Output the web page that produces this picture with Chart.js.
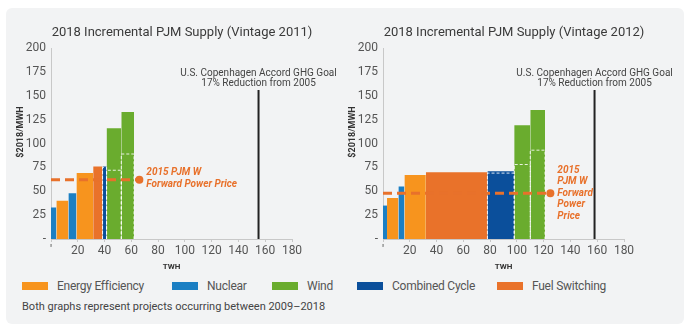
<!DOCTYPE html>
<html>
<head>
<meta charset="utf-8">
<script src="https://cdn.jsdelivr.net/npm/chart.js@4.4.0/dist/chart.umd.min.js"></script>
<style>
  body { margin: 0; background: #fff; width: 690px; height: 333px; overflow: hidden;
         font-family: Roboto, sans-serif; }
  #panel { position: absolute; left: 6px; top: 8px; width: 678px; height: 316px;
           background: #f2f3f4; border-radius: 6px; }
  .box { position: absolute; top: 0; width: 345px; height: 276px; }
  #legend { position: absolute; left: 0; top: 279px; width: 690px; height: 16px;
            font-size: 12px; letter-spacing: -0.25px; color: #555; }
  #legend .item { position: absolute; top: 0; display: flex; align-items: center; white-space: nowrap; }
  #legend .item:nth-child(1) { left: 22px; }
  #legend .item:nth-child(2) { left: 172px; }
  #legend .item:nth-child(3) { left: 272px; }
  #legend .item:nth-child(4) { left: 357px; }
  #legend .item:nth-child(5) { left: 497px; }
  #legend .sw { width: 26px; height: 8px; margin-right: 9px; }
  #note { position: absolute; left: 22px; top: 300px; font-size: 11px; color: #444; }
</style>
</head>
<body>
<div id="panel"></div>
<div class="box" style="left:0"><canvas id="chart2011"></canvas></div>
<div class="box" style="left:332px"><canvas id="chart2012"></canvas></div>
<div id="legend"></div>
<div id="note">Both graphs represent projects occurring between 2009–2018</div>

<script>
// legend categories
const categories = ['Energy Efficiency', 'Nuclear', 'Wind', 'Combined Cycle', 'Fuel Switching'];
const catColors = ['#f7941e', '#1b7fc3', '#6aac2e', '#0b4f9b', '#e9722a'];

// tick labels
const xTickLabels = ["'", '20', '40', '60', '80', '100', '120', '140', '160', '180'];
const yTickLabels = ['-', '25', '50', '75', '100', '125', '150', '175', '200'];

// Vintage 2011 supply curve (TWh from / to, $2018/MWh)
const v2011Start = [0, 4, 13, 19, 31.5, 38.5, 41.5, 52.5];
const v2011End = [4, 13, 19, 31.5, 38.5, 41.5, 52.5, 62];
const v2011Cost = [33, 40, 48, 69, 76, 76, 116, 133];
const v2011Type = ['Nuclear', 'Energy Efficiency', 'Nuclear', 'Energy Efficiency', 'Fuel Switching', 'Combined Cycle', 'Wind', 'Wind'];
const v2011Dashed = [null, null, null, null, null, 75, 72, 89];
const v2011Price = 62, v2011PriceEnd = 66;
const v2011Goal = 155, v2011GoalTop = 156;

// Vintage 2012 supply curve
const v2012Start = [0, 3, 11.5, 16, 32, 78, 98, 110];
const v2012End = [3, 11.5, 16, 32, 78, 98, 110, 121];
const v2012Cost = [35, 43, 55, 67, 70, 71, 119, 135];
const v2012Type = ['Nuclear', 'Energy Efficiency', 'Nuclear', 'Energy Efficiency', 'Fuel Switching', 'Combined Cycle', 'Wind', 'Wind'];
const v2012Dashed = [null, null, null, null, null, 69, 78, 93];
const v2012Price = 48, v2012PriceEnd = 125;
const v2012Goal = 158, v2012GoalTop = 156;

const priceColor = '#e8712b';
const fam = 'Roboto, sans-serif';

// legend
const legendEl = document.getElementById('legend');
categories.forEach((c, i) => {
    legendEl.innerHTML += '<div class="item"><div class="sw" style="background:' + catColors[i] + '"></div>' + c + '</div>';
});

const textPlugin = {
    id: 'texts',
    afterDraw(chart, args, opts) {
        const { ctx, chartArea, scales: { x, y } } = chart;
        ctx.save();
        ctx.textBaseline = 'middle';
        ctx.textAlign = 'center';
        ctx.fillStyle = '#3a3a3a';
        ctx.font = '13px ' + fam;
        ctx.fillText(opts.title, chartArea.left + 131, 33);

        // y axis title
        ctx.save();
        ctx.translate(chartArea.left - 30, 132);
        ctx.rotate(-Math.PI / 2);
        ctx.font = 'bold 9px ' + fam;
        ctx.fillStyle = '#333';
        ctx.fillText('$2018/MWH', 0, 0);
        ctx.restore();

        const gx = x.getPixelForValue(opts.goal);
        const gy = y.getPixelForValue(opts.goalTop);
        ctx.font = '10px ' + fam;
        ctx.fillStyle = '#444';
        ctx.fillText('U.S. Copenhagen Accord GHG Goal', gx, gy - 17);
        ctx.fillText('17% Reduction from 2005', gx, gy - 7);

        const px = x.getPixelForValue(opts.priceEnd) + 7;
        const py = y.getPixelForValue(opts.price);
        ctx.textAlign = 'left';
        ctx.fillStyle = priceColor;
        ctx.font = 'italic bold 10px ' + fam;
        opts.priceLines.forEach((t, i) => ctx.fillText(t, px, py + opts.priceOffset + i * opts.priceStep));
        ctx.restore();
    }
};

function createChart(canvasId, title, start, end, cost, type, dashed, price, priceEnd, goal, goalTop, priceLines, priceOffset, priceStep) {
    const datasets = [];
    // price line + goal line on top
    datasets.push({
        data: [{ x: 0, y: price }, { x: priceEnd, y: price }],
        borderColor: priceColor, borderWidth: 3, borderDash: [9, 5],
        pointRadius: [0, 4], pointBackgroundColor: priceColor, pointBorderWidth: 0,
        fill: false, order: 0
    });
    datasets.push({
        data: [{ x: goal, y: 0 }, { x: goal, y: goalTop }],
        borderColor: '#222', borderWidth: 2, pointRadius: 0, fill: false, order: 1
    });
    for (let i = 0; i < start.length; i++) {
        if (dashed[i] != null) {
            datasets.push({
                data: [{ x: start[i], y: 0 }, { x: start[i], y: dashed[i] }, { x: end[i], y: dashed[i] }, { x: end[i], y: 0 }],
                borderColor: 'rgba(255,255,255,0.85)', borderWidth: 1, borderDash: [3, 2],
                pointRadius: 0, fill: false, order: 2
            });
        }
        const col = catColors[categories.indexOf(type[i])];
        datasets.push({
            data: [{ x: start[i], y: 0 }, { x: start[i], y: cost[i] }, { x: end[i], y: cost[i] }, { x: end[i], y: 0 }],
            borderColor: 'rgba(0,0,0,0)', backgroundColor: col, borderWidth: 1,
            pointRadius: 0, fill: 'origin', order: 3
        });
    }

    const ctx = document.getElementById(canvasId).getContext('2d');
    return new Chart(ctx, {
        type: 'line',
        data: { datasets: datasets },
        plugins: [textPlugin],
        options: {
            responsive: true,
            maintainAspectRatio: false,
            animation: false,
            events: [],
            layout: { padding: { left: 0, right: 53, top: 48, bottom: 0 } },
            elements: { line: { tension: 0 } },
            plugins: {
                legend: { display: false },
                tooltip: { enabled: false },
                texts: { title, goal, goalTop, price, priceEnd, priceLines, priceOffset, priceStep }
            },
            scales: {
                x: {
                    type: 'linear', min: 0, max: 180,
                    afterFit: s => { s.height = 37; },
                    border: { display: true, color: '#c8c8c8', width: 1 },
                    grid: { drawOnChartArea: false, drawTicks: true, tickLength: 3, color: '#c8c8c8' },
                    ticks: {
                        stepSize: 20, padding: 2, color: '#555', maxRotation: 0,
                        font: { family: 'Roboto', size: 12 },
                        callback: (v, i) => xTickLabels[i]
                    },
                    title: { display: true, text: 'TWH', color: '#333', font: { family: 'Roboto', size: 8, weight: 'bold' }, padding: { top: 0, bottom: 4 } }
                },
                y: {
                    min: 0, max: 200,
                    afterFit: s => { s.width = 51; },
                    border: { display: true, color: '#c8c8c8', width: 1 },
                    grid: { display: false, drawTicks: false },
                    ticks: {
                        stepSize: 25, padding: 5, color: '#555',
                        font: { family: 'Roboto', size: 12 },
                        callback: (v, i) => yTickLabels[i]
                    }
                }
            }
        }
    });
}

createChart('chart2011', '2018 Incremental PJM Supply (Vintage 2011)',
    v2011Start, v2011End, v2011Cost, v2011Type, v2011Dashed, v2011Price, v2011PriceEnd, v2011Goal, v2011GoalTop,
    ['2015 PJM W', 'Forward Power Price'], -7, 12);
createChart('chart2012', '2018 Incremental PJM Supply (Vintage 2012)',
    v2012Start, v2012End, v2012Cost, v2012Type, v2012Dashed, v2012Price, v2012PriceEnd, v2012Goal, v2012GoalTop,
    ['2015', 'PJM W', 'Forward', 'Power', 'Price'], -23, 11.5);
</script>
</body>
</html>
